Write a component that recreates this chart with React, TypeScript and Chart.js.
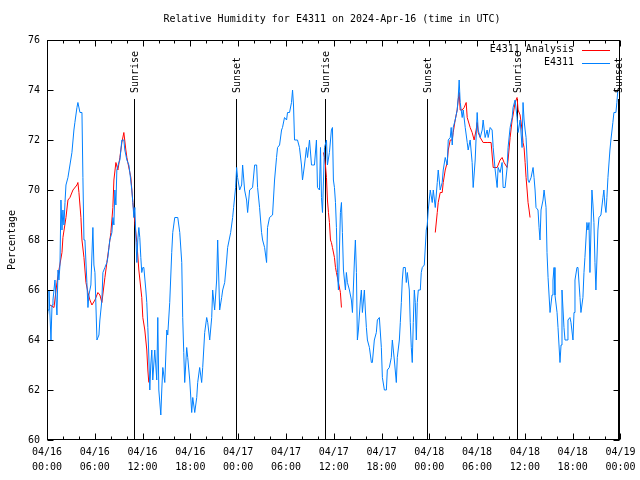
import React, { useEffect, useRef } from "react";
import { Chart, registerables } from "chart.js";

Chart.register(...registerables);

const TITLE = "Relative Humidity for E4311 on 2024-Apr-16 (time in UTC)";
const Y_LABEL = "Percentage";
const SERIES_NAMES = ["E4311 Analysis", "E4311"];
const SERIES_COLORS = ["#ff0000", "#0080ff"];
const DAY_LABELS = ["04/16", "04/17", "04/18", "04/19"];
const SUN_HOURS = [10.97, 23.71, 34.95, 47.73, 58.98, 71.72];
const SUN_LABELS = ["Sunrise", "Sunset", "Sunrise", "Sunset", "Sunrise", "Sunset"];
const Y_MIN = 60;
const Y_MAX = 76;
const Y_STEP = 2;
const X_MIN = 0;
const X_MAX = 72;
const X_STEP = 6;
const X_MINOR = 2;

// hours since 04/16 00:00 UTC, relative humidity (%)
const blueObs: [number, number][] = [
  [0.0, 64.8], [0.13, 65.2], [0.25, 66.0], [0.5, 64.0], [0.63, 65.4], [0.75, 65.6], [1.0, 66.4], [1.25, 65.0],
  [1.38, 66.8], [1.5, 66.4], [1.63, 67.0], [1.75, 69.6], [1.88, 68.4], [2.0, 69.2], [2.13, 68.6], [2.26, 69.5],
  [2.38, 70.2], [2.63, 70.5], [2.88, 71.0], [3.13, 71.5], [3.38, 72.4], [3.5, 72.7], [3.76, 73.3], [3.88, 73.5],
  [4.14, 73.1], [4.39, 73.1], [4.51, 70.5], [4.64, 68.0], [4.76, 68.0], [5.01, 66.3], [5.14, 65.3], [5.26, 65.8],
  [5.51, 66.2], [5.76, 68.5], [5.89, 67.0], [6.02, 66.7], [6.27, 64.0], [6.52, 64.2], [6.64, 64.8], [6.89, 65.6],
  [7.02, 66.7], [7.27, 66.9], [7.52, 67.1], [7.64, 67.3], [7.89, 68.0], [8.15, 68.3], [8.27, 68.9], [8.4, 68.6],
  [8.52, 70.0], [8.65, 69.4], [8.77, 70.8], [9.02, 71.1], [9.15, 71.2], [9.4, 72.0], [9.65, 72.0], [9.77, 71.6],
  [10.03, 71.2], [10.28, 71.0], [10.4, 70.7], [10.65, 70.0], [10.78, 69.5], [10.9, 68.9], [11.03, 69.3], [11.15, 68.2],
  [11.28, 67.1], [11.4, 68.0], [11.53, 68.5], [11.65, 68.1], [11.78, 67.3], [11.9, 66.7], [12.03, 66.9], [12.16, 66.9],
  [12.41, 66.0], [12.53, 65.5], [12.66, 64.5], [12.78, 63.4], [12.91, 62.0], [13.03, 63.0], [13.16, 63.6], [13.28, 62.4],
  [13.53, 63.6], [13.78, 62.4], [13.91, 64.9], [14.04, 62.0], [14.29, 61.0], [14.41, 62.0], [14.54, 62.9], [14.79, 62.3],
  [15.04, 64.4], [15.16, 64.2], [15.41, 65.5], [15.66, 67.5], [15.79, 68.3], [16.04, 68.9], [16.42, 68.9], [16.67, 68.3],
  [16.92, 67.1], [17.04, 64.9], [17.17, 63.5], [17.29, 62.3], [17.54, 63.7], [17.67, 63.3], [17.92, 62.4], [18.17, 61.1],
  [18.3, 61.7], [18.55, 61.1], [18.8, 61.7], [18.92, 62.3], [19.17, 62.9], [19.42, 62.3], [19.55, 62.9], [19.8, 64.3],
  [20.05, 64.9], [20.18, 64.7], [20.43, 64.0], [20.68, 64.9], [20.8, 66.0], [21.05, 65.2], [21.3, 66.4], [21.43, 68.0],
  [21.68, 65.2], [21.93, 65.7], [22.06, 66.0], [22.31, 66.3], [22.56, 67.2], [22.68, 67.7], [23.06, 68.3], [23.31, 68.9],
  [23.43, 69.3], [23.68, 70.1], [23.81, 70.9], [23.93, 70.5], [24.19, 70.0], [24.44, 70.2], [24.56, 71.0], [24.81, 70.0],
  [25.06, 69.6], [25.19, 69.1], [25.44, 70.0], [25.81, 70.1], [26.07, 71.0], [26.32, 71.0], [26.44, 70.1], [26.69, 69.3],
  [26.94, 68.3], [27.07, 68.0], [27.32, 67.7], [27.57, 67.1], [27.69, 68.5], [27.94, 68.9], [28.32, 69.0], [28.57, 70.4],
  [28.82, 71.3], [28.95, 71.7], [29.2, 71.8], [29.45, 72.4], [29.57, 72.5], [29.82, 72.9], [30.08, 72.8], [30.2, 73.1],
  [30.45, 73.1], [30.7, 73.5], [30.83, 74.0], [30.95, 73.4], [31.08, 72.0], [31.45, 72.0], [31.7, 71.7], [31.95, 71.0],
  [32.08, 70.4], [32.33, 71.0], [32.58, 71.7], [32.71, 71.3], [32.96, 72.0], [33.21, 71.0], [33.33, 71.0], [33.58, 71.0],
  [33.83, 72.0], [33.96, 70.1], [34.21, 70.0], [34.34, 71.7], [34.46, 69.7], [34.59, 69.1], [34.84, 71.7], [35.09, 72.0],
  [35.21, 71.0], [35.46, 71.5], [35.71, 72.4], [35.84, 72.5], [35.96, 70.4], [36.09, 70.1], [36.22, 69.5], [36.34, 68.5],
  [36.47, 66.7], [36.59, 66.0], [36.84, 69.1], [36.97, 69.5], [37.09, 68.3], [37.22, 66.8], [37.47, 66.0], [37.59, 66.7],
  [37.72, 66.3], [37.97, 66.0], [38.22, 65.6], [38.35, 65.1], [38.6, 67.2], [38.72, 68.0], [38.85, 66.7], [38.97, 64.0],
  [39.1, 64.4], [39.35, 65.6], [39.47, 66.0], [39.6, 65.1], [39.85, 66.0], [39.97, 65.2], [40.1, 64.5], [40.23, 64.0],
  [40.48, 63.7], [40.73, 63.1], [40.85, 63.1], [41.1, 64.0], [41.35, 64.3], [41.48, 64.8], [41.73, 64.9], [41.98, 63.7],
  [42.11, 62.5], [42.36, 62.0], [42.61, 62.0], [42.73, 62.8], [42.98, 62.9], [43.23, 63.3], [43.36, 64.0], [43.61, 63.2],
  [43.86, 62.3], [43.98, 63.3], [44.24, 64.0], [44.36, 64.7], [44.49, 65.5], [44.61, 66.4], [44.74, 66.9], [44.99, 66.9],
  [45.11, 66.3], [45.24, 66.7], [45.49, 66.0], [45.61, 64.7], [45.74, 63.7], [45.86, 63.1], [45.99, 64.7], [46.12, 66.0],
  [46.24, 65.5], [46.37, 64.0], [46.49, 65.5], [46.62, 66.0], [46.87, 66.0], [46.99, 66.7], [47.12, 66.9], [47.37, 67.0],
  [47.62, 68.4], [47.74, 68.6], [47.87, 69.2], [48.12, 70.0], [48.37, 69.5], [48.5, 70.0], [48.75, 69.3], [49.0, 70.3],
  [49.12, 70.8], [49.37, 70.0], [49.62, 70.3], [49.75, 70.8], [50.0, 71.3], [50.25, 71.0], [50.38, 72.0], [50.63, 72.1],
  [50.75, 72.5], [50.88, 71.8], [51.0, 72.5], [51.25, 72.8], [51.5, 73.2], [51.63, 73.7], [51.75, 74.4], [51.88, 73.5],
  [52.13, 72.9], [52.26, 73.2], [52.51, 72.5], [52.76, 71.9], [52.88, 71.6], [53.13, 72.0], [53.38, 71.1], [53.51, 70.1],
  [53.76, 71.2], [54.01, 73.1], [54.14, 72.4], [54.39, 72.1], [54.64, 72.4], [54.76, 72.8], [55.01, 72.1], [55.26, 72.4],
  [55.39, 72.1], [55.64, 72.5], [55.89, 72.4], [56.02, 71.7], [56.27, 70.8], [56.52, 70.1], [56.64, 70.9], [56.89, 70.7],
  [57.14, 71.1], [57.27, 70.1], [57.52, 70.1], [57.77, 70.9], [57.89, 71.7], [58.15, 72.5], [58.4, 72.9], [58.52, 73.3],
  [58.77, 73.6], [59.02, 72.9], [59.15, 72.3], [59.4, 72.8], [59.65, 71.7], [59.77, 73.5], [59.9, 72.8], [60.03, 72.4],
  [60.15, 72.1], [60.4, 70.4], [60.53, 70.3], [60.78, 70.5], [61.03, 70.9], [61.15, 70.5], [61.28, 70.0], [61.4, 69.3],
  [61.65, 69.2], [61.78, 68.5], [61.9, 68.0], [62.03, 69.2], [62.28, 69.6], [62.41, 70.0], [62.66, 69.3], [62.78, 67.5],
  [62.91, 66.5], [63.16, 65.1], [63.41, 65.8], [63.53, 66.4], [63.66, 66.9], [63.78, 65.8], [64.04, 65.1], [64.16, 64.5],
  [64.41, 63.1], [64.54, 63.8], [64.66, 66.0], [64.91, 64.5], [65.04, 64.0], [65.29, 64.0], [65.41, 64.8], [65.66, 64.9],
  [65.79, 64.7], [66.04, 64.0], [66.17, 65.1], [66.29, 66.4], [66.54, 66.9], [66.67, 66.9], [66.92, 65.7], [67.04, 65.1],
  [67.29, 65.7], [67.42, 66.7], [67.54, 67.3], [67.79, 68.7], [67.92, 68.4], [68.05, 68.7], [68.17, 66.7], [68.42, 70.0],
  [68.55, 69.4], [68.67, 68.7], [68.8, 67.1], [68.92, 66.0], [69.17, 68.4], [69.3, 68.9], [69.55, 69.0], [69.8, 69.7],
  [69.92, 70.0], [70.05, 69.4], [70.18, 69.1], [70.3, 69.7], [70.43, 70.5], [70.68, 71.6], [70.8, 72.0], [71.05, 72.7],
  [71.18, 73.1], [71.43, 73.1], [71.55, 73.5], [71.68, 74.0],
];

const redDay1: [number, number][] = [
  [0.38, 65.4], [0.88, 65.3], [1.25, 66.3], [1.5, 66.8], [1.88, 67.5], [2.0, 68.1], [2.38, 68.9], [2.63, 69.6],
  [2.88, 69.7], [3.26, 70.0], [3.76, 70.2], [3.88, 70.3], [4.01, 69.9], [4.26, 68.9], [4.39, 68.0], [4.64, 67.3],
  [4.89, 66.3], [5.14, 65.9], [5.39, 65.6], [5.64, 65.4], [6.02, 65.6], [6.39, 65.9], [6.64, 65.8], [6.89, 65.5],
  [7.27, 66.5], [7.52, 67.1], [7.77, 67.7], [8.02, 68.3], [8.27, 69.3], [8.4, 70.4], [8.65, 71.1], [8.9, 70.8],
  [9.15, 71.3], [9.4, 71.9], [9.65, 72.3], [9.9, 71.6], [10.03, 71.3], [10.15, 71.1], [10.53, 70.5], [10.78, 69.5],
  [11.03, 68.7], [11.28, 67.9], [11.53, 66.8], [11.9, 65.7], [12.03, 64.9], [12.28, 64.4], [12.53, 63.6], [12.66, 62.8],
  [12.78, 62.3],
];

const redDay2: [number, number][] = [
  [34.71, 71.5], [34.84, 71.3], [34.96, 71.0], [35.09, 70.5], [35.21, 69.6], [35.34, 69.1], [35.46, 68.7], [35.59, 68.0],
  [35.71, 67.9], [35.84, 67.7], [36.09, 67.3], [36.22, 66.9], [36.34, 66.7], [36.59, 66.3], [36.84, 65.9], [36.97, 65.3],
];

const redDay3: [number, number][] = [
  [48.75, 68.3], [49.0, 69.1], [49.12, 69.5], [49.37, 69.9], [49.62, 69.9], [49.75, 70.3], [50.0, 70.8], [50.25, 71.1],
  [50.38, 71.6], [50.63, 72.0], [50.88, 72.0], [51.0, 72.3], [51.25, 72.8], [51.5, 73.2], [51.63, 73.6], [51.75, 73.9],
  [51.88, 73.2], [52.13, 73.2], [52.38, 73.3], [52.63, 73.5], [52.76, 72.9], [53.13, 72.5], [53.38, 72.3], [53.63, 72.0],
  [53.88, 72.4], [54.01, 72.7], [54.14, 72.3], [54.39, 72.1], [54.76, 71.9], [55.26, 71.9], [55.76, 71.9], [56.02, 70.9],
  [56.52, 70.9], [56.89, 71.2], [57.14, 71.3], [57.39, 71.1], [57.77, 70.9], [57.89, 71.2], [58.15, 72.1], [58.4, 72.8],
  [58.52, 73.0], [58.77, 73.5], [59.02, 73.7], [59.15, 73.2], [59.4, 73.0], [59.65, 72.4], [59.77, 71.9], [59.9, 71.7],
  [60.03, 71.1], [60.15, 70.5], [60.28, 70.0], [60.4, 69.5], [60.53, 69.2], [60.65, 68.9],
];

const FONT = "'DejaVu Sans Mono', 'Liberation Mono', monospace";

const toPts = (arr: [number, number][]) => arr.map(([x, y]) => ({ x, y }));

const gnuplotPlugin = {
  id: "gnuplotDecor",
  beforeDatasetsDraw(chart: any) {
    const { ctx, chartArea: a, scales } = chart;
    const x = scales.x;
    const topY = a.top + (a.bottom - a.top) * 0.1475;
    ctx.save();
    ctx.strokeStyle = "#000";
    ctx.lineWidth = 1;
    SUN_HOURS.forEach((t) => {
      const px = Math.round(x.getPixelForValue(t)) + 0.5;
      ctx.beginPath();
      ctx.moveTo(px, a.bottom);
      ctx.lineTo(px, Math.round(topY));
      ctx.stroke();
    });
    ctx.restore();
  },
  afterDraw(chart: any) {
    const { ctx, chartArea: a, scales } = chart;
    const x = scales.x;
    const y = scales.y;
    const topY = a.top + (a.bottom - a.top) * 0.1475;
    ctx.save();
    ctx.strokeStyle = "#000";
    ctx.lineWidth = 1;
    const L = Math.round(a.left) + 0.5;
    const R = Math.round(a.right) - 0.5;
    const T = Math.round(a.top) + 0.5;
    const B = Math.round(a.bottom) - 0.5;
    ctx.strokeRect(L, T, R - L, B - T);
    ctx.beginPath();
    for (let h = X_MIN; h <= X_MAX; h += X_MINOR) {
      const len = h % X_STEP === 0 ? 6 : 3;
      const px = Math.round(x.getPixelForValue(h)) + 0.5;
      ctx.moveTo(px, B);
      ctx.lineTo(px, B - len);
      ctx.moveTo(px, T);
      ctx.lineTo(px, T + len);
    }
    for (let v = Y_MIN; v <= Y_MAX; v += Y_STEP) {
      const py = Math.round(y.getPixelForValue(v)) + 0.5;
      ctx.moveTo(L, py);
      ctx.lineTo(L + 6, py);
      ctx.moveTo(R, py);
      ctx.lineTo(R - 6, py);
    }
    ctx.stroke();

    ctx.fillStyle = "#000";
    ctx.font = `10px ${FONT}`;
    // sun labels
    SUN_HOURS.forEach((t, i) => {
      const px = Math.round(x.getPixelForValue(t)) + 1;
      ctx.save();
      ctx.translate(px, Math.round(topY) - 6);
      ctx.rotate(-Math.PI / 2);
      ctx.textAlign = "left";
      ctx.textBaseline = "middle";
      ctx.fillText(SUN_LABELS[i], 0, 0);
      ctx.restore();
    });

    // legend
    const ds = chart.data.datasets;
    const rows = [49.5, 62.5];
    ds.forEach((d: any, i: number) => {
      const ry = rows[i];
      ctx.textAlign = "right";
      ctx.textBaseline = "middle";
      ctx.fillStyle = "#000";
      ctx.fillText(d.label, 574, ry);
      ctx.strokeStyle = d.borderColor;
      ctx.beginPath();
      ctx.moveTo(582, Math.round(ry) + 0.5);
      ctx.lineTo(610, Math.round(ry) + 0.5);
      ctx.stroke();
    });

    // title
    ctx.fillStyle = "#000";
    ctx.textAlign = "center";
    ctx.textBaseline = "middle";
    ctx.fillText(TITLE, 332, 19);
    ctx.restore();
  },
};

export default function App() {
  const ref = useRef<HTMLCanvasElement>(null);
  useEffect(() => {
    const canvas = ref.current!;
    const redData: any[] = [
      ...toPts(redDay1),
      { x: 23, y: null },
      ...toPts(redDay2),
      { x: 42, y: null },
      ...toPts(redDay3),
    ];
    const chart = new Chart(canvas, {
      type: "line",
      data: {
        datasets: [
          {
            label: SERIES_NAMES[0],
            data: redData,
            borderColor: SERIES_COLORS[0],
            backgroundColor: SERIES_COLORS[0],
            borderWidth: 1,
            pointRadius: 0,
            spanGaps: false,
            tension: 0,
            order: 2,
          },
          {
            label: SERIES_NAMES[1],
            data: toPts(blueObs),
            borderColor: SERIES_COLORS[1],
            backgroundColor: SERIES_COLORS[1],
            borderWidth: 1,
            pointRadius: 0,
            tension: 0,
            order: 1,
          },
        ],
      },
      options: {
        animation: false,
        responsive: false,
        parsing: true,
        layout: { padding: { top: 40, right: 19, left: 0, bottom: 0 } },
        plugins: {
          legend: { display: false },
          tooltip: { enabled: false },
          title: { display: false },
        },
        scales: {
          x: {
            type: "linear",
            min: X_MIN,
            max: X_MAX,
            grid: { display: false, drawTicks: false },
            border: { display: false },
            ticks: {
              stepSize: X_STEP,
              padding: 4.5,
              maxRotation: 0,
              minRotation: 0,
              autoSkip: false,
              color: "#000",
              font: { family: FONT, size: 10, lineHeight: 1.5 },
              callback: (value: any) => {
                const v = Number(value);
                const d = Math.floor(v / 24);
                const h = Math.round(v - d * 24);
                return [DAY_LABELS[d], String(h).padStart(2, "0") + ":00"];
              },
            },
            afterFit: (s: any) => {
              s.height = 40;
            },
          },
          y: {
            min: Y_MIN,
            max: Y_MAX,
            grid: { display: false, drawTicks: false },
            border: { display: false },
            ticks: {
              stepSize: Y_STEP,
              padding: 7,
              color: "#000",
              font: { family: FONT, size: 10 },
            },
            title: {
              display: true,
              text: Y_LABEL,
              color: "#000",
              font: { family: FONT, size: 10, lineHeight: 1.2 },
              padding: { top: 6, bottom: 0 },
            },
            afterFit: (s: any) => {
              s.width = 47;
            },
          },
        },
      },
      plugins: [gnuplotPlugin],
    } as any);
    return () => chart.destroy();
  }, []);
  return (
    <div style={{ position: "fixed", left: 0, top: 0, width: 640, height: 480, background: "#fff" }}>
      <canvas ref={ref} width={640} height={480} style={{ display: "block", width: 640, height: 480 }} />
    </div>
  );
}
